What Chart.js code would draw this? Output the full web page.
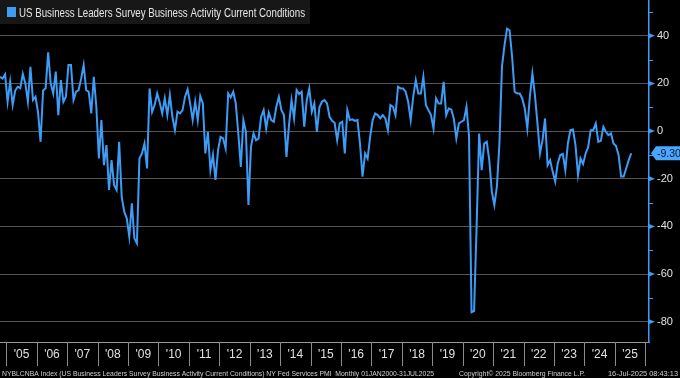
<!DOCTYPE html>
<html>
<head>
<meta charset="utf-8">
<script src="https://cdn.jsdelivr.net/npm/chart.js@4"></script>
<style>
  html, body { margin: 0; padding: 0; background: #000; }
  #wrap { width: 680px; height: 378px; position: relative; }
</style>
</head>
<body>
<div id="wrap"><canvas id="chartLine"></canvas></div>
<script>
// monthly readings, Oct 2004 .. Jul 2025
const activity = [
  22.8, 22, 23.8, 12.3, 20.7, 11, 17, 18.6, 18, 24, 20, 12.3, 27, 13, 14.4, 8, -4.5, 17, 18, 33,
  20, 15.8, 25, 6.7, 21.4, 12.3, 14.4, 27.7, 27.7, 13, 16.5, 17.2, 22, 27.7, 17.2, 16.5, 7.4, 22.8, 10.2, -11.5,
  4.6, -14.3, -5.9, -24.7, -12.2, -22.6, -24.7, -4.5, -27.5, -33.8, -36.6, -44.3, -30.3, -45, -47.1, -11.5, -9.4, -5.2, -15.7, 17.9,
  8.1, 11, 15.8, 12, 7.4, 13.7, 6.7, 15.1, 6, 0.4, 8.1, 7.4, 8.8, 14.4, 17.5, 11.6, 4.6, 12.3, 4.6, 14.7,
  11.6, -9.4, -0.3, -16.4, -10, -20.5, -8, -2.4, -3.1, -7.3, 15.8, 14.1, 16.5, 11.6, -1, -15, 4.6, -0.3, -31, -6.6,
  -1, -3.8, -3.1, 6, 8.8, 1.1, 7.7, 4.6, 3.9, 10.2, 14.4, 8.8, 6.7, -10.8, 2.5, 13, 5.3, 17.2, 15.5, 16.5,
  1.8, 13, 17.9, 8.1, 11.6, -0.3, 10, 12.3, 13, 11.6, 6, 4.3, 3.5, -3.8, 3.2, 3.9, -9.4, 8.8, 4.6, 4.9,
  4.3, 4.6, -5.2, -19.1, -9.4, -11.5, -2.4, 4.6, 7.4, 6.7, 5.3, 6.7, 5.3, 0.4, 10.9, 10.2, 6.7, 18.6, 17.9, 17.9,
  16.5, 12.3, 4.6, 14.4, 21.4, 15.8, 15.8, 22.8, 10.9, 8.8, 6.7, 1.1, 13.7, 11.6, 11.6, 20.7, 6.7, 9.5, 9.1, 5.3,
  -3.1, 3.2, 3.9, 4.6, 10.2, -2, -76, -75.5, -40, -1, -16.4, -5.2, -4.5, -12.2, -25.4, -31, -23.3, -5.2, 27, 36,
  43, 42.3, 31.2, 16.5, 15.8, 15.8, 13.7, 9.5, 1.1, 14.4, 24.2, 15.1, 3.2, -9.4, -3.8, 5.3, -14.3, -12.2, -17, -21.2,
  -13.6, -10, -9.6, -16.4, -5.2, 0.4, 0.7, -5.9, -18.4, -11.5, -13.8, -9.4, -6.8, 0.4, 0.4, 3.2, -4.5, -4.1, 1.8, -0.3,
  -1.7, -1, -5.2, -6.3, -10, -19.1, -19.1, -15.7, -12.2, -9.3
];
const yearLabels = ["'05", "'06", "'07", "'08", "'09", "'10", "'11", "'12", "'13", "'14", "'15",
  "'16", "'17", "'18", "'19", "'20", "'21", "'22", "'23", "'24", "'25"];
const yTicks = [-80, -60, -40, -20, 0, 20, 40];
const lastLabel = '-9.30';
const seriesName = 'US Business Leaders Survey Business Activity Current Conditions';
const footerLeft = 'NYBLCNBA Index (US Business Leaders Survey Business Activity Current Conditions) NY Fed Services PMI  Monthly 01JAN2000-31JUL2025';
const footerMid = 'Copyright\u00a9 2025 Bloomberg Finance L.P.';
const footerRight = '16-Jul-2025 08:43:13';

const firstJan = 3; // index of Jan 2005 in activity
const blue = '#3d9cf5';
const font = "'Liberation Sans', Arial, sans-serif";

const extras = {
  id: 'extras',
  beforeDraw(chart) {
    const ctx = chart.ctx;
    ctx.save();
    ctx.fillStyle = '#000';
    ctx.fillRect(0, 0, chart.width, chart.height);
    ctx.restore();
  },
  afterDraw(chart) {
    const ctx = chart.ctx;
    const xs = chart.scales.x, ys = chart.scales.y;
    const area = chart.chartArea;
    ctx.save();

    // year separators under the axis
    ctx.strokeStyle = '#8a8a8a';
    ctx.lineWidth = 1;
    for (let i = 0; i <= yearLabels.length; i++) {
      const px = Math.round(xs.getPixelForValue(firstJan + i * 12 - 0.5)) + 0.5;
      ctx.beginPath();
      ctx.moveTo(px, area.bottom);
      ctx.lineTo(px, area.bottom + 24);
      ctx.stroke();
    }

    // tick marks on the right axis
    ctx.fillStyle = blue;
    ctx.strokeStyle = blue;
    for (let v = -80; v <= 50; v += 10) {
      const py = ys.getPixelForValue(v);
      if (v % 20 === 0) {
        ctx.beginPath();
        ctx.moveTo(area.right, py - 2.5);
        ctx.lineTo(area.right + 6, py);
        ctx.lineTo(area.right, py + 2.5);
        ctx.closePath();
        ctx.fill();
      } else {
        ctx.beginPath();
        ctx.moveTo(area.right, Math.round(py) + 0.5);
        ctx.lineTo(area.right + 4, Math.round(py) + 0.5);
        ctx.stroke();
      }
    }

    // last value tag
    const last = activity[activity.length - 1];
    const ty = ys.getPixelForValue(last);
    ctx.fillStyle = '#4aa6ff';
    ctx.beginPath();
    ctx.moveTo(area.right + 2, ty);
    ctx.lineTo(area.right + 7, ty - 7);
    ctx.lineTo(chart.width, ty - 7);
    ctx.lineTo(chart.width, ty + 7);
    ctx.lineTo(area.right + 7, ty + 7);
    ctx.closePath();
    ctx.fill();
    ctx.fillStyle = '#0b1a2e';
    ctx.font = '10.5px ' + font;
    ctx.textBaseline = 'middle';
    ctx.fillText(lastLabel, area.right + 8, ty + 0.5, 25);

    // legend box
    ctx.fillStyle = '#171717';
    ctx.fillRect(0, 0, 310, 24);
    ctx.fillStyle = blue;
    ctx.fillRect(7, 7, 9, 10);
    ctx.fillStyle = '#e6e6e6';
    ctx.font = '12px ' + font;
    ctx.textBaseline = 'alphabetic';
    ctx.fillText(seriesName, 19, 17, 286);

    // footer
    ctx.fillStyle = '#d0d0d0';
    ctx.font = '8px ' + font;
    ctx.fillText(footerLeft, 2, 376, 432);
    ctx.fillText(footerMid, 459, 376, 126);
    ctx.fillText(footerRight, 608, 376, 70);
    ctx.restore();
  }
};

const configLine = {
  type: 'line',
  data: {
    datasets: [{
      label: seriesName,
      data: activity.map((v, i) => ({ x: i, y: v })),
      borderColor: blue,
      borderWidth: 2,
      pointRadius: 0,
      tension: 0
    }]
  },
  options: {
    responsive: false,
    animation: false,
    layout: { padding: 0 },
    plugins: { legend: { display: false }, tooltip: { enabled: false } },
    scales: {
      x: {
        type: 'linear',
        min: 0,
        max: 256,
        afterFit: (s) => {
          s.height = 36;
          s.paddingLeft = 0;
          s.paddingRight = 0;
        },
        afterBuildTicks: (s) => {
          s.ticks = yearLabels.map((_, i) => ({ value: firstJan + i * 12 + 5.5 }));
        },
        ticks: {
          autoSkip: false,
          maxRotation: 0,
          padding: 5,
          color: '#e0e0e0',
          font: { size: 12, family: font },
          callback: (v, i) => yearLabels[i]
        },
        grid: { display: false, drawTicks: false },
        border: { display: true, color: '#9a9a9a', width: 1 }
      },
      y: {
        position: 'right',
        min: -88.5,
        max: 55,
        afterFit: (s) => {
          s.width = 31;
          s.paddingTop = 0;
          s.paddingBottom = 0;
        },
        afterBuildTicks: (s) => { s.ticks = yTicks.map(v => ({ value: v })); },
        ticks: {
          padding: 8,
          color: '#e0e0e0',
          font: { size: 11, family: font }
        },
        grid: { color: '#555555', lineWidth: 1, drawTicks: false },
        border: { color: blue, width: 1.5 }
      }
    }
  },
  plugins: [extras]
};

const canvas = document.getElementById('chartLine');
canvas.width = 680;
canvas.height = 378;
new Chart(canvas, configLine);
</script>
</body>
</html>
